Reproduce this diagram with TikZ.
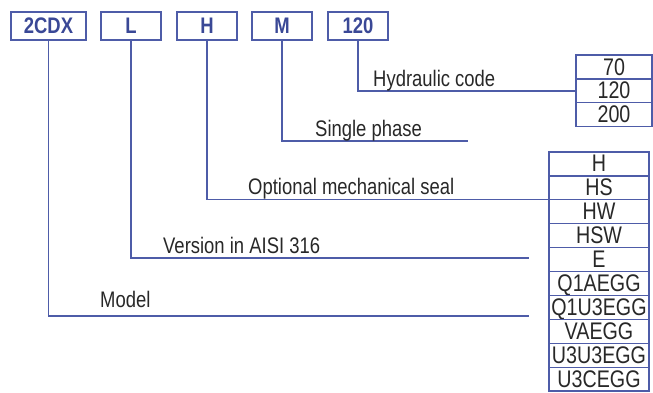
\documentclass[tikz,border=0pt]{standalone}
\usepackage{fontspec}
\setmainfont{Liberation Sans}[FakeStretch=0.82]
\usepackage{tikz}
\usetikzlibrary{positioning}
\definecolor{codeblue}{RGB}{78,92,168}
\definecolor{codetext}{RGB}{58,72,150}
\definecolor{inktext}{RGB}{40,40,40}

\begin{document}
\begin{tikzpicture}[
    x=1pt, y=-1pt,
    code/.style={draw=codeblue, line width=1.3pt, minimum width=60pt, minimum height=28pt,
                 inner sep=0pt, outer sep=0pt, text=codetext,
                 font=\fontsize{22.5}{22.5}\selectfont\bfseries},
    cell/.style={draw=codeblue, line width=1.2pt, minimum height=23.9pt,
                 inner sep=0pt, outer sep=0pt, text=inktext,
                 text height=17pt, text depth=1pt,
                 font=\fontsize{24}{24}\selectfont},
    lead/.style={draw=codeblue, line width=1.3pt},
    caption/.style={anchor=base west, inner sep=0pt, text=inktext,
                    font=\fontsize{22.5}{22.5}\selectfont}
]
\useasboundingbox (0,0) rectangle (653,392);

% code boxes
\node[code, minimum width=75pt] (model) at (48.5,26) {2CDX};
\node[code] (ver) at (131,26) {L};
\node[code] (seal) at (207,26) {H};
\node[code] (phase) at (282,26) {M};
\node[code] (hyd) at (358,26) {120};

% hydraulic codes
\node[cell, minimum width=76pt] (c70) at (614,67) {70};
\node[cell, minimum width=76pt, below=0pt of c70] (c120) {120};
\node[cell, minimum width=76pt, below=0pt of c120] (c200) {200};

% seal options
\node[cell, minimum width=100pt] (cH) at (599,163.95) {H};
\node[cell, minimum width=100pt, below=0pt of cH] (cHS) {HS};
\node[cell, minimum width=100pt, below=0pt of cHS] (cHW) {HW};
\node[cell, minimum width=100pt, below=0pt of cHW] (cHSW) {HSW};
\node[cell, minimum width=100pt, below=0pt of cHSW] (cE) {E};
\node[cell, minimum width=100pt, below=0pt of cE] (cQA) {Q1AEGG};
\node[cell, minimum width=100pt, below=0pt of cQA] (cQU) {Q1U3EGG};
\node[cell, minimum width=100pt, below=0pt of cQU] (cVA) {VAEGG};
\node[cell, minimum width=100pt, below=0pt of cVA] (cUU) {U3U3EGG};
\node[cell, minimum width=100pt, below=0pt of cUU] (cUC) {U3CEGG};

% free line ends
\coordinate (endphase) at (468,141);
\coordinate (endver) at (529,258);
\coordinate (endmodel) at (529,316);

% leaders
\draw[lead] (hyd.south) |- (c120.west);
\draw[lead] (phase.south) |- (endphase);
\draw[lead] (seal.south) |- (cHS.south west);
\draw[lead] (ver.south) |- (endver);
\draw[lead] (model.south) |- (endmodel);

% captions
\node[caption] (tHyd) at (373,86.5) {Hydraulic code};
\node[caption] (tPhase) at (315,136) {Single phase};
\node[caption] (tSeal) at (248,194) {Optional mechanical seal};
\node[caption] (tVer) at (163,253) {Version in AISI 316};
\node[caption] (tModel) at (100,307) {Model};
\end{tikzpicture}
\end{document}
